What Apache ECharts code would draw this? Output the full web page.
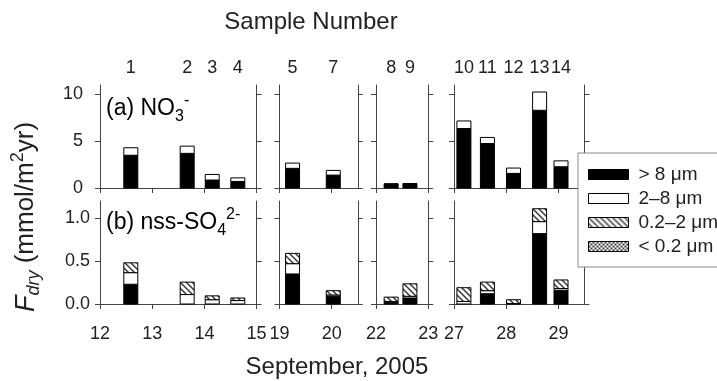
<!DOCTYPE html>
<html lang="en">
<head>
<meta charset="utf-8" />
<title>Dry deposition flux</title>
<script src="https://cdn.jsdelivr.net/npm/echarts@6/dist/echarts.min.js"></script>
<style>html,body{margin:0;padding:0;background:#fff;}</style>
</head>
<body>
<div id="main" style="width:717px;height:381px;"></div>
<script type="text/javascript">
// samples: number, collection day (September 2005), which date panel
var sampleNo = [1, 2, 3, 4, 5, 7, 8, 9, 10, 11, 12, 13, 14];
var sampleDay = [12.59, 13.67, 14.15, 14.64, 19.25, 20.03, 22.29, 22.65, 27.19, 27.64, 28.14, 28.64, 29.05];
var samplePanel = [0, 0, 0, 0, 1, 1, 2, 2, 3, 3, 3, 3, 3];

var sizeClasses = ['> 8 μm', '2–8 μm', '0.2–2 μm', '< 0.2 μm'];

// (a) NO3-  (mmol/m2yr)
var no3Gt8 = [3.5, 3.7, 0.85, 0.7, 2.1, 1.38, 0.42, 0.45, 6.35, 4.75, 1.56, 8.3, 2.27];
var no3Mid = [0.8, 0.77, 0.6, 0.38, 0.56, 0.5, 0.03, 0.03, 0.81, 0.65, 0.57, 1.95, 0.63];
var no3Fine = [0, 0, 0, 0, 0, 0, 0, 0, 0, 0, 0, 0, 0];
var no3Ultra = [0, 0, 0, 0, 0, 0, 0, 0, 0, 0, 0, 0, 0];

// (b) nss-SO4 2-  (mmol/m2yr)
var so4Gt8 = [0.23, 0, 0, 0, 0.35, 0.09, 0.02, 0.07, 0, 0.12, 0, 0.82, 0.16];
var so4Mid = [0.135, 0.11, 0.05, 0.04, 0.12, 0.015, 0.01, 0.02, 0.03, 0.035, 0.005, 0.14, 0.02];
var so4Fine = [0.115, 0.145, 0.045, 0.03, 0.12, 0.05, 0.05, 0.145, 0.16, 0.1, 0.045, 0.15, 0.1];
var so4Ultra = [0, 0, 0, 0, 0, 0, 0, 0, 0, 0, 0, 0, 0];

// date axes of the four panels
var panelDayMin = [12, 19, 22, 27];
var panelDayMax = [15, 20.5, 23, 29.5];
var panelDateTicks = [[12, 13, 14, 15], [19, 20], [22, 23], [27, 28, 29]];

var no3Ticks = [0, 5, 10];
var no3Max = 11;
var so4Ticks = [0, 0.5, 1.0];
var so4Max = 1.2;

var FONT = '"Liberation Sans", Arial, sans-serif';
var INK = '#222';
var LINE = '#444';

// fill patterns
function hatch() {
  var c = document.createElement('canvas');
  c.width = 6; c.height = 6;
  var g = c.getContext('2d');
  g.fillStyle = '#fff'; g.fillRect(0, 0, 6, 6);
  g.strokeStyle = '#333'; g.lineWidth = 1.4;
  for (var k = -1; k <= 1; k++) {
    g.beginPath(); g.moveTo(k * 6 - 1, -1); g.lineTo(k * 6 + 7, 7); g.stroke();
  }
  return c;
}
function checker() {
  var c = document.createElement('canvas');
  c.width = 4; c.height = 4;
  var g = c.getContext('2d');
  g.fillStyle = '#fff'; g.fillRect(0, 0, 4, 4);
  g.fillStyle = '#444';
  g.fillRect(0, 0, 2, 2); g.fillRect(2, 2, 2, 2);
  return c;
}
var fills = ['#000', '#fff', { image: hatch(), repeat: 'repeat' }, { image: checker(), repeat: 'repeat' }];

var gridLeft = [100, 279.5, 376, 454];
var gridTop = [85, 201];
var gridHeight = 103;
var dayPx = 52.2;
var barW = 14;

// one segment of a stacked bar: data row is [day, c0, c1, c2, c3]
function segment(k) {
  return function (params, api) {
    var v = api.value(1 + k);
    if (!v) return null;
    var base = 0;
    for (var j = 0; j < k; j++) base += api.value(1 + j);
    var p0 = api.coord([api.value(0), base]);
    var p1 = api.coord([api.value(0), base + v]);
    return {
      type: 'rect',
      shape: { x: p0[0] - barW / 2, y: p1[1], width: barW, height: p0[1] - p1[1] },
      style: { fill: fills[k], stroke: '#000', lineWidth: 1 }
    };
  };
}

var grids = [], xAxes = [], yAxes = [], series = [];

for (var r = 0; r < 2; r++) {
  var comps = r === 0 ? [no3Gt8, no3Mid, no3Fine, no3Ultra] : [so4Gt8, so4Mid, so4Fine, so4Ultra];
  for (var p = 0; p < 4; p++) {
    var gi = r * 4 + p;
    grids.push({
      left: gridLeft[p], top: gridTop[r],
      width: (panelDayMax[p] - panelDayMin[p]) * dayPx, height: gridHeight,
      outerBoundsMode: 'none'
    });
    var idx = [];
    for (var i = 0; i < sampleNo.length; i++) if (samplePanel[i] === p) idx.push(i);
    var days = idx.map(function (i) { return sampleDay[i]; });

    // bottom date axis
    xAxes.push({
      type: 'value', gridIndex: gi, position: 'bottom',
      min: panelDayMin[p], max: panelDayMax[p],
      axisLine: { lineStyle: { color: LINE, width: 1 } },
      axisTick: { length: 5, customValues: panelDateTicks[p], lineStyle: { color: LINE } },
      axisLabel: {
        show: r === 1, customValues: panelDateTicks[p], margin: 21,
        fontSize: 18, fontFamily: FONT, color: INK
      },
      splitLine: { show: false }
    });
    // top axis: box edge, sample numbers in top row
    xAxes.push({
      type: 'value', gridIndex: gi, position: 'top',
      min: panelDayMin[p], max: panelDayMax[p],
      axisLine: { lineStyle: { color: LINE, width: 1 } },
      axisTick: { show: false },
      axisLabel: {
        show: r === 0, customValues: days, margin: 8,
        fontSize: 18, fontFamily: FONT, color: INK,
        formatter: function (v) {
          for (var j = 0; j < sampleDay.length; j++) {
            if (Math.abs(sampleDay[j] - v) < 1e-6) return String(sampleNo[j]);
          }
          return '';
        }
      },
      splitLine: { show: false }
    });
    var ticks = r === 0 ? no3Ticks : so4Ticks;
    yAxes.push({
      type: 'value', gridIndex: gi, position: 'left',
      min: 0, max: r === 0 ? no3Max : so4Max,
      axisLine: { show: true, lineStyle: { color: LINE, width: 1 } },
      axisTick: { show: true, length: 5, customValues: ticks, lineStyle: { color: LINE } },
      axisLabel: {
        show: p === 0, customValues: ticks, margin: r === 0 ? 17 : 10,
        fontSize: 18, fontFamily: FONT, color: INK,
        formatter: r === 0 ? function (v) { return String(v); } : function (v) { return v.toFixed(1); }
      },
      splitLine: { show: false }
    });
    yAxes.push({
      type: 'value', gridIndex: gi, position: 'right',
      min: 0, max: r === 0 ? no3Max : so4Max,
      axisLine: { show: true, lineStyle: { color: LINE, width: 1 } },
      axisTick: { show: true, length: 5, customValues: ticks, lineStyle: { color: LINE } },
      axisLabel: { show: false },
      splitLine: { show: false }
    });

    var rows = idx.map(function (i) {
      return [sampleDay[i], comps[0][i], comps[1][i], comps[2][i], comps[3][i]];
    });
    for (var k = 0; k < 4; k++) {
      series.push({
        type: 'custom',
        name: sizeClasses[k],
        xAxisIndex: gi * 2,
        yAxisIndex: gi * 2,
        encode: { x: 0, y: [1, 2, 3, 4] },
        renderItem: segment(k),
        itemStyle: { color: fills[k], borderColor: '#000', borderWidth: 1 },
        emphasis: { disabled: true },
        silent: true,
        data: rows
      });
    }
  }
}

var myChart = echarts.init(document.getElementById('main'));

var option = {
  animation: false,
  grid: grids,
  xAxis: xAxes,
  yAxis: yAxes,
  series: series,
  legend: {
    data: sizeClasses,
    orient: 'vertical',
    left: 578, top: 153,
    icon: 'rect',
    itemWidth: 40, itemHeight: 10, itemGap: 5,
    padding: [12, 40, 11, 10],
    backgroundColor: '#fff',
    borderColor: '#888', borderWidth: 1,
    selectedMode: false,
    itemStyle: { borderColor: '#000', borderWidth: 1 },
    textStyle: { fontSize: 19, fontFamily: FONT, color: INK, padding: [0, 0, 0, 5] }
  },
  graphic: [
    {
      type: 'text', x: 311, y: 22,
      style: { text: 'Sample Number', font: '24px ' + FONT, fill: INK, align: 'center', verticalAlign: 'middle' }
    },
    {
      type: 'text', x: 337, y: 367,
      style: { text: 'September, 2005', font: '24px ' + FONT, fill: INK, align: 'center', verticalAlign: 'middle' }
    },
    {
      type: 'text', x: 26, y: 217, rotation: Math.PI / 2,
      style: {
        text: '{i|F}{s|dry}{n| (mmol/m}{p|2}{n|yr)}',
        align: 'center', verticalAlign: 'middle', fill: INK,
        rich: {
          i: { fontSize: 27, fontStyle: 'italic', lineHeight: 34, fontFamily: FONT, color: INK },
          s: { fontSize: 18, fontStyle: 'italic', lineHeight: 18, verticalAlign: 'bottom', fontFamily: FONT, color: INK },
          n: { fontSize: 26, lineHeight: 34, fontFamily: FONT, color: INK },
          p: { fontSize: 18, lineHeight: 18, verticalAlign: 'top', fontFamily: FONT, color: INK }
        }
      }
    },
    {
      type: 'text', x: 106, y: 109,
      style: {
        text: '{n|(a) NO}{s|3}{p|-}',
        align: 'left', verticalAlign: 'middle',
        rich: {
          n: { fontSize: 23, lineHeight: 32, fontFamily: FONT, color: INK },
          s: { fontSize: 16, lineHeight: 16, verticalAlign: 'bottom', fontFamily: FONT, color: INK },
          p: { fontSize: 16, lineHeight: 16, verticalAlign: 'top', fontFamily: FONT, color: INK }
        }
      }
    },
    {
      type: 'text', x: 106, y: 223,
      style: {
        text: '{n|(b) nss-SO}{s|4}{p|2-}',
        align: 'left', verticalAlign: 'middle',
        rich: {
          n: { fontSize: 23, lineHeight: 32, fontFamily: FONT, color: INK },
          s: { fontSize: 16, lineHeight: 16, verticalAlign: 'bottom', fontFamily: FONT, color: INK },
          p: { fontSize: 16, lineHeight: 16, verticalAlign: 'top', fontFamily: FONT, color: INK }
        }
      }
    }
  ]
};
myChart.setOption(option);
</script>
</body>
</html>
